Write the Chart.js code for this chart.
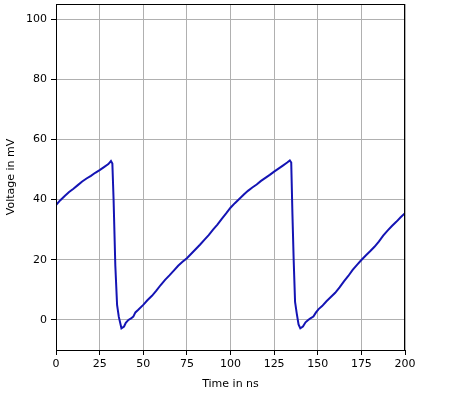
<!DOCTYPE html>
<html>
<head>
<meta charset="utf-8">
<script src="https://cdn.jsdelivr.net/npm/chart.js@4"></script>
<style>
  html, body { margin: 0; padding: 0; background: #fff; }
  #wrap { width: 450px; height: 400px; }
</style>
</head>
<body>
<div id="wrap"><canvas id="voltChart"></canvas></div>
<script>
// Zeit in ns und Spannung in mV
const timeNs = [
  0, 2.5, 5, 7.5, 10, 12.5, 15, 17.5, 20, 22.5, 25, 27.5, 30, 31.5,
  32.3, 33, 34, 35, 36, 37.5, 39, 40, 41.5, 43, 44.3, 45.5, 47,
  50, 52.5, 55, 57.5, 60, 62.5, 65, 67.5, 70, 72.5, 75, 77.5, 80, 82.5,
  85, 87.5, 90, 92.5, 95, 97.5, 100, 102.5, 105, 107.5, 110, 112.5, 115,
  117.5, 120, 122.5, 125, 127.5, 130, 132.5, 134,
  134.8, 135.5, 136.2, 137, 138, 139, 140, 141.5, 143, 144.5, 146, 147.5,
  149, 150.5, 152.5, 155, 157.5, 160, 162.5, 165, 167.5, 170, 172.5, 175,
  177.5, 180, 182.5, 185, 187.5, 190, 192.5, 195, 197.5, 200
];
const voltageMv = [
  38.2, 39.8, 41.2, 42.5, 43.6, 44.8, 46.0, 47.0, 47.9, 48.9, 49.8, 50.8, 51.8, 52.8,
  52.0, 40, 18, 5, 1, -2.8, -2.2, -1, 0, 0.5, 1.1, 2.5, 3.3,
  5.0, 6.6, 8.0, 9.7, 11.6, 13.3, 14.8, 16.4, 18.0, 19.3, 20.5, 22.0, 23.5, 25.0,
  26.6, 28.2, 30.0, 31.7, 33.6, 35.4, 37.3, 38.8, 40.2, 41.6, 42.9, 44.0, 45.0,
  46.2, 47.2, 48.2, 49.3, 50.3, 51.3, 52.3, 53.0,
  52.3, 35, 20, 6, 2, -1.5, -2.8, -2.2, -0.8, 0, 0.6, 1.1,
  2.5, 3.6, 4.6, 6.2, 7.6, 9.0, 10.8, 12.8, 14.6, 16.6, 18.3, 19.9,
  21.4, 22.8, 24.3, 26.0, 28.0, 29.7, 31.2, 32.6, 34.1, 35.5
];
const yTicks = [0, 20, 40, 60, 80, 100];

const points = timeNs.map((t, i) => ({ x: t, y: voltageMv[i] }));

// Rahmen um die Zeichenfläche (oben und rechts auch)
const frame = {
  id: 'frame',
  afterDraw(chart) {
    const a = chart.chartArea, c = chart.ctx;
    c.save();
    c.strokeStyle = '#000';
    c.lineWidth = 1;
    c.strokeRect(a.left + 0.5, a.top + 0.5, a.right - a.left - 1, a.bottom - a.top);
    c.restore();
  }
};

Chart.defaults.font.family = 'DejaVu Sans';
Chart.defaults.font.size = 11;
Chart.defaults.color = '#000';

const ctx = document.getElementById('voltChart').getContext('2d');
new Chart(ctx, {
  type: 'line',
  data: {
    datasets: [{
      data: points,
      borderColor: '#1414b4',
      borderWidth: 2,
      pointRadius: 0,
      fill: false,
      tension: 0
    }]
  },
  options: {
    responsive: true,
    maintainAspectRatio: false,
    animation: false,
    layout: { padding: { top: 4, right: 45, left: 0, bottom: 0 } },
    plugins: { legend: { display: false }, tooltip: { enabled: false } },
    scales: {
      x: {
        type: 'linear',
        min: 0, max: 200,
        ticks: { stepSize: 25, padding: 3, maxRotation: 0 },
        grid: { color: '#b0b0b0', tickColor: '#000', tickLength: 5 },
        border: { color: '#000' },
        title: { display: true, text: 'Time in ns', font: { size: 11 }, padding: { top: 4, bottom: 9 } },
        afterFit(s) { s.height = 50; s.paddingLeft = 0; s.paddingRight = 0; }
      },
      y: {
        type: 'linear',
        min: -10, max: 105,
        afterBuildTicks(s) { s.ticks = yTicks.map(v => ({ value: v })); },
        ticks: { padding: 4 },
        grid: { color: '#b0b0b0', tickColor: '#000', tickLength: 5 },
        border: { color: '#000' },
        title: { display: true, text: 'Voltage in mV', font: { size: 11 }, padding: { top: 5, bottom: 0 } },
        afterFit(s) { s.width = 56; s.paddingTop = 0; s.paddingBottom = 0; }
      }
    }
  },
  plugins: [frame]
});
</script>
</body>
</html>
